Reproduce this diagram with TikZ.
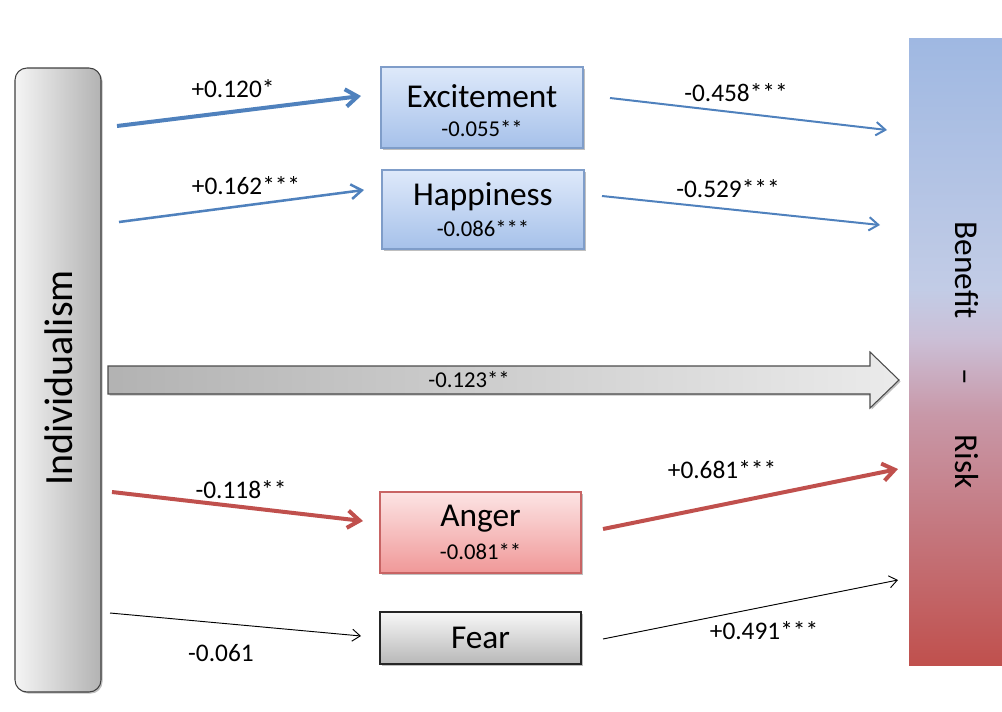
\documentclass[tikz,border=0pt]{standalone}
\usepackage{fontspec}
\setmainfont{Carlito}
\usetikzlibrary{arrows.meta,shadows}

\definecolor{pathblue}{HTML}{4F81BD}
\definecolor{pathred}{HTML}{C0504D}
\definecolor{boxline}{HTML}{7F9DC9}
\definecolor{barblue}{HTML}{9FB8E2}
\definecolor{barpale}{HTML}{C2CCE6}
\definecolor{barlav}{HTML}{CBBFD6}
\definecolor{barpink}{HTML}{C898A8}
\definecolor{barred}{HTML}{C0504D}

% benefit (top) to risk (bottom) colour scale
\pgfdeclareverticalshading{benefitrisk}{100bp}{%
  color(0bp)=(barred); color(25bp)=(barred); color(45bp)=(barpink);
  color(51bp)=(barlav); color(55bp)=(barpale); color(75bp)=(barblue); color(100bp)=(barblue)}

\tikzset{
  softshadow/.style={drop shadow={shadow xshift=1.2pt,shadow yshift=-1.2pt,opacity=0.25,fill=black}},
  indbox/.style={draw=black!75, line width=0.8pt, rounded corners=9pt,
    left color=black!4, right color=black!30, softshadow,
    minimum width=64.5pt, minimum height=468pt, inner sep=0pt},
  posbox/.style={draw=boxline, line width=0.8pt,
    top color={rgb,255:red,222;green,233;blue,250}, bottom color={rgb,255:red,166;green,193;blue,234},
    softshadow, minimum width=151.5pt, inner sep=0pt},
  angbox/.style={draw={rgb,255:red,200;green,100;blue,100}, line width=0.8pt,
    top color={rgb,255:red,252;green,228;blue,228}, bottom color={rgb,255:red,240;green,152;blue,152},
    softshadow, minimum width=150.75pt, inner sep=0pt},
  fearbox/.style={draw=black!85, line width=0.8pt,
    top color=black!3, bottom color=black!28,
    softshadow, minimum width=150.75pt, inner sep=0pt},
  outbar/.style={shading=benefitrisk,
    minimum width=69.75pt, minimum height=470.25pt, inner sep=0pt},
  bigtxt/.style={font=\fontsize{25}{30}\selectfont, inner sep=0pt},
  subtxt/.style={font=\fontsize{17}{20}\selectfont, inner sep=0pt},
  coef/.style={font=\fontsize{19}{22}\selectfont, inner sep=0pt},
  thickblue/.style={draw=pathblue, line width=3pt, -{Straight Barb[length=9pt,width=13pt]}},
  midblue/.style={draw=pathblue, line width=1.9pt, -{Straight Barb[length=8pt,width=11pt]}},
  thinblue/.style={draw=pathblue, line width=1.5pt, -{Straight Barb[length=7pt,width=10pt]}},
  thickred/.style={draw=pathred, line width=3pt, -{Straight Barb[length=9pt,width=13pt]}},
  thinblack/.style={draw=black, line width=0.7pt, -{Straight Barb[length=6pt,width=9pt]}},
}

\begin{document}
\begin{tikzpicture}[x=0.75pt,y=-0.75pt]
\useasboundingbox (0,0) rectangle (1002,711);

% outcome bar on the right
\node[outbar] (bar) at (955.5,351.5) {};
\node[rotate=-90, font=\fontsize{25}{30}\selectfont, inner sep=0pt] (bartxt) at (967,355)
  {Benefit\hspace{37pt}–\hspace{37pt}Risk};

% predictor
\node[indbox] (ind) at (58,380) {};
\node[rotate=90, font=\fontsize{30}{36}\selectfont, inner sep=0pt] (indtxt) at (59,378) {Individualism};

% mediating emotions
\node[posbox, minimum height=60.75pt] (exc) at (482,107.5) {};
\node[bigtxt] (exct) at (482,96) {Excitement};
\node[subtxt] (excv) at (482,129) {-0.055**};

\node[posbox, minimum height=59.25pt] (hap) at (483,209.5) {};
\node[bigtxt] (hapt) at (483,197) {Happiness};
\node[subtxt] (hapv) at (483,229) {-0.086***};

\node[angbox, minimum height=60.75pt] (ang) at (480.5,532.5) {};
\node[bigtxt] (angt) at (480.5,519) {Anger};
\node[subtxt] (angv) at (480.5,552) {-0.081**};

\node[fearbox, minimum height=39pt] (fear) at (480.5,638) {};
\node[bigtxt] (feart) at (480.5,638) {Fear};

% direct effect (block arrow)
\path[draw=black!70, line width=0.8pt, left color=black!30, right color=black!8, softshadow]
  (108,366) -- (870,366) -- (870,352) -- (899,380) -- (870,408) -- (870,394) -- (108,394) -- cycle;
\node[subtxt] (dirv) at (469,380) {-0.123**};

% path end points
\coordinate (p1s) at (117,126); \coordinate (p1e) at (361,96);
\coordinate (p2s) at (119,222); \coordinate (p2e) at (364,190);
\coordinate (p3s) at (610,98);  \coordinate (p3e) at (887,130);
\coordinate (p4s) at (602,196); \coordinate (p4e) at (880,225);
\coordinate (p6s) at (112,492); \coordinate (p6e) at (363,521);
\coordinate (p7s) at (603,529); \coordinate (p7e) at (898,469);
\coordinate (p8s) at (110,613); \coordinate (p8e) at (361,636);
\coordinate (p9s) at (603,639); \coordinate (p9e) at (898,580);

% paths
\draw[thickblue] (p1s) -- (p1e);
\draw[midblue]   (p2s) -- (p2e);
\draw[thinblue]  (p3s) -- (p3e);
\draw[thinblue]  (p4s) -- (p4e);
\draw[thickred]  (p6s) -- (p6e);
\draw[thickred]  (p7s) -- (p7e);
\draw[thinblack] (p8s) -- (p8e);
\draw[thinblack] (p9s) -- (p9e);

% coefficients
\node[coef] (c1) at (233,89)  {+0.120*};
\node[coef] (c2) at (246,186) {+0.162***};
\node[coef] (c3) at (736,93)  {-0.458***};
\node[coef] (c4) at (728,189) {-0.529***};
\node[coef] (c6) at (241,490) {-0.118**};
\node[coef] (c7) at (722,470) {+0.681***};
\node[coef] (c8) at (221,653) {-0.061};
\node[coef] (c9) at (764,631) {+0.491***};
\end{tikzpicture}
\end{document}
